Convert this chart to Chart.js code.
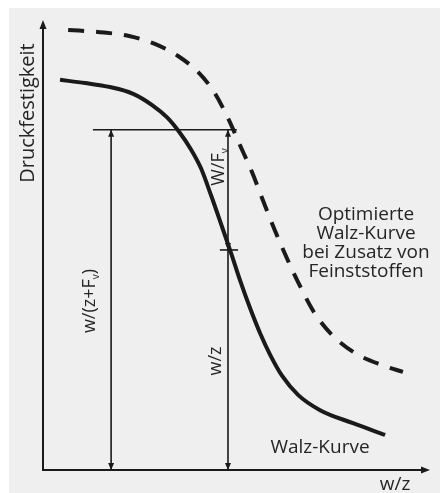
<!DOCTYPE html>
<html>
<head>
<meta charset="utf-8">
<script src="https://cdn.jsdelivr.net/npm/chart.js@4"></script>
<style>
  body { margin: 0; background: #fff; }
  #wrap { width: 440px; height: 493px; position: relative; }
</style>
</head>
<body>
<div id="wrap"><canvas id="chart"></canvas></div>
<script>
// Optimized curve (dashed) - w/z vs. Druckfestigkeit, arbitrary units 0..100
const optX = [6.5, 14.7, 22.5, 28.9, 34.9, 40.1, 44.2, 47.8, 50.9, 54.0, 56.8, 59.9, 63.0, 66.4, 70.0, 74.7, 80.6, 87.6, 93.0];
const optY = [97.8, 97.3, 96.4, 94.7, 92.0, 88.4, 84.0, 78.2, 72.2, 66.2, 60.0, 53.3, 47.1, 40.9, 35.1, 30.0, 26.0, 23.3, 21.8];

// Walz-Kurve (solid)
const walzX = [4.4, 10.9, 17.3, 23.3, 28.2, 32.0, 35.4, 38.2, 40.8, 43.4, 46.0, 48.6, 50.9, 53.5, 56.1, 58.7, 61.8, 65.9, 71.6, 80.1, 88.4];
const walzY = [86.7, 86.0, 85.1, 83.6, 81.1, 78.4, 74.9, 71.3, 67.1, 61.1, 54.7, 48.2, 42.2, 36.0, 30.4, 25.6, 20.9, 16.7, 13.3, 10.4, 7.8];

// helper lines
const levelY = 75.6;       // horizontal reference level
const levelX = [12.9, 50.1];
const leftArrowX = 17.6;   // w/(z+Fv)
const rightArrowX = 47.8;  // w/z and W/Fv
const splitY = 48.9;       // where Walz-Kurve crosses the right arrow
const tickX = [45.7, 50.4];

const ink = "#1a1a1a";
const face = "'Open Sans'";

function pts(xs, ys) {
    return xs.map((x, i) => ({ x: x, y: ys[i] }));
}

function arrowHead(ctx, x, y, angle, len, half) {
    ctx.save();
    ctx.translate(x, y);
    ctx.rotate(angle);
    ctx.beginPath();
    ctx.moveTo(0, 0);
    ctx.lineTo(-len, -half);
    ctx.lineTo(-len, half);
    ctx.closePath();
    ctx.fill();
    ctx.restore();
}

// Background, axes, arrowheads and labels
const decoPlugin = {
    id: "deco",
    beforeDraw(chart) {
        const ctx = chart.ctx;
        ctx.save();
        ctx.fillStyle = "#efefef";
        ctx.fillRect(9, 8, 431, 485);
        ctx.restore();
    },
    afterDatasetsDraw(chart) {
        const ctx = chart.ctx;
        const a = chart.chartArea;
        ctx.save();
        ctx.strokeStyle = ink;
        ctx.fillStyle = ink;
        ctx.lineWidth = 2;
        ctx.beginPath();
        ctx.moveTo(a.left, a.top + 6);
        ctx.lineTo(a.left, a.bottom);
        ctx.lineTo(a.right - 6, a.bottom);
        ctx.stroke();
        arrowHead(ctx, a.left, a.top, -Math.PI / 2, 9, 3.5);
        arrowHead(ctx, a.right, a.bottom, 0, 9, 3.5);

        // arrowheads on helper lines
        chart.data.datasets.forEach((ds, i) => {
            if (!ds.arrows) return;
            const p = chart.getDatasetMeta(i).data;
            const first = p[0], last = p[p.length - 1];
            const ang = Math.atan2(last.y - first.y, last.x - first.x);
            if (ds.arrows.includes("end")) arrowHead(ctx, last.x, last.y, ang, 7, 3);
            if (ds.arrows.includes("start")) arrowHead(ctx, first.x, first.y, ang + Math.PI, 7, 3);
        });
        ctx.restore();
    },
    afterDraw(chart) {
        const ctx = chart.ctx;
        ctx.save();
        ctx.fillStyle = "#252525";
        ctx.textAlign = "center";
        ctx.textBaseline = "middle";

        // vertical text, parts = [[text, size, yShift], ...]
        function vtext(parts, x, y) {
            ctx.save();
            ctx.translate(x, y);
            ctx.rotate(-Math.PI / 2);
            ctx.textAlign = "left";
            let total = 0;
            parts.forEach(p => {
                ctx.font = p[1] + "px " + face;
                total += ctx.measureText(p[0]).width;
            });
            let x0 = -total / 2;
            parts.forEach(p => {
                ctx.font = p[1] + "px " + face;
                ctx.fillText(p[0], x0, p[2]);
                x0 += ctx.measureText(p[0]).width;
            });
            ctx.restore();
        }

        vtext([["Druckfestigkeit", 20, 0]], 28, 113);
        vtext([["W/F", 18, 0], ["v", 10, 6]], 219, 167);
        vtext([["w/(z+F", 18, 0], ["v", 10, 6], [")", 18, 0]], 90, 301);
        vtext([["w/z", 18, 0]], 216, 361);

        ctx.font = "19px " + face;
        ["Optimierte", "Walz-Kurve", "bei Zusatz von", "Feinststoffen"].forEach((t, i) => {
            ctx.fillText(t, 366, 215 + i * 19);
        });
        ctx.fillText("Walz-Kurve", 320, 448);
        ctx.fillText("w/z", 395, 485);
        ctx.restore();
    }
};

const helper = (data, arrows) => ({
    data: data,
    showLine: true,
    borderColor: ink,
    borderWidth: 1.6,
    pointRadius: 0,
    tension: 0,
    arrows: arrows
});

new Chart(document.getElementById("chart"), {
    type: "scatter",
    data: {
        datasets: [
            {
                label: "Optimierte Walz-Kurve",
                data: pts(optX, optY),
                showLine: true,
                borderColor: ink,
                borderWidth: 4,
                borderDash: [16, 12],
                pointRadius: 0,
                cubicInterpolationMode: "monotone"
            },
            {
                label: "Walz-Kurve",
                data: pts(walzX, walzY),
                showLine: true,
                borderColor: ink,
                borderWidth: 4,
                pointRadius: 0,
                cubicInterpolationMode: "monotone"
            },
            helper([{ x: levelX[0], y: levelY }, { x: levelX[1], y: levelY }], []),
            helper([{ x: leftArrowX, y: 0 }, { x: leftArrowX, y: levelY }], ["start", "end"]),
            helper([{ x: rightArrowX, y: splitY }, { x: rightArrowX, y: levelY }], ["start", "end"]),
            helper([{ x: rightArrowX, y: splitY }, { x: rightArrowX, y: 0 }], ["end"]),
            helper([{ x: tickX[0], y: splitY }, { x: tickX[1], y: splitY }], [])
        ]
    },
    options: {
        responsive: true,
        maintainAspectRatio: false,
        animation: false,
        layout: { padding: { left: 43, right: 10, top: 20, bottom: 23 } },
        scales: {
            x: { type: "linear", min: 0, max: 100, display: false },
            y: { type: "linear", min: 0, max: 100, display: false }
        },
        plugins: {
            legend: { display: false },
            tooltip: { enabled: false }
        }
    },
    plugins: [decoPlugin]
});
</script>
</body>
</html>
